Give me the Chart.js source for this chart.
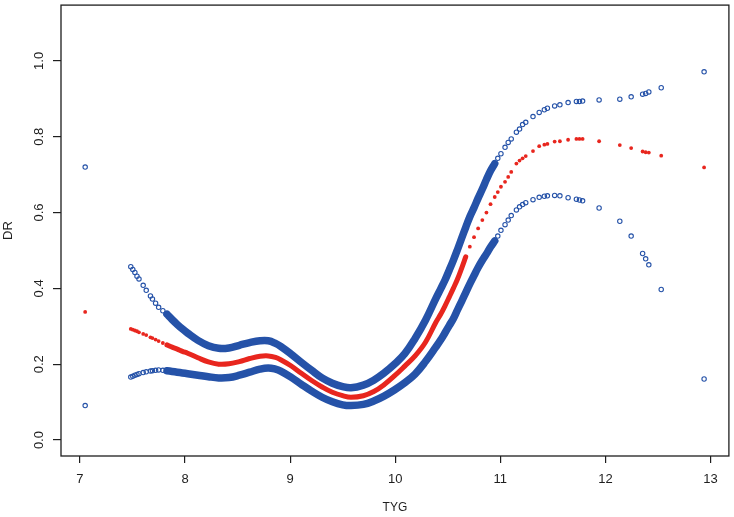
<!DOCTYPE html>
<html>
<head>
<meta charset="utf-8">
<title>DR vs TYG</title>
<script src="https://cdn.jsdelivr.net/npm/chart.js@4"></script>
<style>
  html, body { margin: 0; padding: 0; background: #fff; }
  #wrap { width: 734px; height: 517px; }
</style>
</head>
<body>
<div id="wrap"><canvas id="chart" width="734" height="517"></canvas></div>
<script>
// TYG values (x) and the fitted DR with its upper / lower bounds
const tyg = [7.05,
  7.484, 7.503, 7.523, 7.543, 7.562, 7.602, 7.631, 7.671, 7.690, 7.720, 7.749, 7.789, 7.828,
  7.877, 7.926, 7.975, 8.025, 8.123, 8.222, 8.320, 8.418, 8.517, 8.615, 8.713, 8.792, 8.861, 8.910, 9.008,
  9.107, 9.205, 9.304, 9.402, 9.500, 9.579, 9.697, 9.796, 9.894, 9.992, 10.091, 10.189, 10.288, 10.386, 10.435,
  10.474, 10.514, 10.553, 10.592, 10.632, 10.671, 10.710, 10.750, 10.789, 10.829, 10.868, 10.907, 10.947,
  10.976, 11.006, 11.045, 11.075, 11.104, 11.153, 11.183, 11.212, 11.242, 11.311, 11.370, 11.419, 11.448,
  11.517, 11.567, 11.645, 11.724, 11.753, 11.783, 11.940, 12.137, 12.245, 12.354, 12.383, 12.413, 12.531, 12.939];

const drFit = [0.338,
  0.293, 0.291, 0.289, 0.287, 0.284, 0.280, 0.277, 0.271, 0.269, 0.265, 0.261, 0.256, 0.251,
  0.245, 0.240, 0.234, 0.229, 0.217, 0.206, 0.200, 0.201, 0.207, 0.215, 0.221, 0.222, 0.218, 0.212, 0.196,
  0.176, 0.157, 0.140, 0.126, 0.117, 0.113, 0.117, 0.128, 0.146, 0.169, 0.195, 0.222, 0.258, 0.310, 0.333,
  0.354, 0.377, 0.400, 0.424, 0.453, 0.483, 0.510, 0.535, 0.558, 0.580, 0.600, 0.622, 0.641,
  0.654, 0.668, 0.681, 0.694, 0.707, 0.729, 0.737, 0.743, 0.749, 0.762, 0.775, 0.779, 0.781,
  0.787, 0.788, 0.792, 0.794, 0.794, 0.794, 0.788, 0.778, 0.770, 0.761, 0.759, 0.758, 0.750, 0.719];

const drUpper = [0.720,
  0.457, 0.450, 0.442, 0.432, 0.425, 0.408, 0.395, 0.380, 0.372, 0.361, 0.350, 0.341, 0.332,
  0.318, 0.305, 0.293, 0.282, 0.263, 0.249, 0.242, 0.243, 0.250, 0.257, 0.262, 0.262, 0.255, 0.247, 0.227,
  0.205, 0.184, 0.164, 0.150, 0.141, 0.138, 0.145, 0.158, 0.177, 0.200, 0.228, 0.268, 0.316, 0.373, 0.400,
  0.422, 0.448, 0.474, 0.502, 0.532, 0.561, 0.589, 0.613, 0.638, 0.662, 0.687, 0.710, 0.729,
  0.743, 0.755, 0.772, 0.785, 0.794, 0.812, 0.820, 0.832, 0.838, 0.853, 0.864, 0.871, 0.875,
  0.881, 0.884, 0.890, 0.893, 0.893, 0.894, 0.897, 0.899, 0.905, 0.912, 0.914, 0.918, 0.929, 0.971];

const drLower = [0.091,
  0.166, 0.168, 0.171, 0.173, 0.175, 0.178, 0.180, 0.182, 0.183, 0.184, 0.185, 0.184, 0.183,
  0.181, 0.179, 0.177, 0.175, 0.171, 0.167, 0.164, 0.165, 0.171, 0.179, 0.187, 0.190, 0.187, 0.182, 0.166,
  0.147, 0.129, 0.113, 0.101, 0.093, 0.091, 0.094, 0.103, 0.116, 0.132, 0.151, 0.174, 0.207, 0.245, 0.265,
  0.283, 0.302, 0.320, 0.343, 0.366, 0.389, 0.412, 0.434, 0.455, 0.474, 0.491, 0.509, 0.525,
  0.538, 0.553, 0.568, 0.580, 0.592, 0.607, 0.615, 0.621, 0.626, 0.634, 0.640, 0.643, 0.644,
  0.645, 0.644, 0.639, 0.635, 0.633, 0.631, 0.612, 0.577, 0.538, 0.492, 0.478, 0.462, 0.397, 0.161];

const xTicks = [7, 8, 9, 10, 11, 12, 13];
const yTicks = [0, 0.2, 0.4, 0.6, 0.8, 1.0];

// TYG range where the points are so dense they merge into a solid band
const denseFrom = 7.8;
const blueDenseTo = 10.95;
const redDenseTo = 10.7;

const BLUE = '#2552a8';
const RED = '#e8261e';
const INK = '#1e1e1e';
const FONT = '"Liberation Sans", Arial, sans-serif';

function toPoints(ys) {
    return tyg.map((x, i) => ({ x: x, y: ys[i] }));
}

function bandSet(ys, upTo, color, width) {
    return {
        data: toPoints(ys).filter(p => p.x >= denseFrom && p.x <= upTo),
        showLine: true,
        borderColor: color,
        borderWidth: width,
        borderCapStyle: 'round',
        tension: 0.4,
        pointRadius: 0
    };
}

// 外框 + 旋轉的 y 軸刻度文字
const boxPlugin = {
    id: 'box',
    afterDraw(chart) {
        const ctx = chart.ctx;
        const a = chart.chartArea;
        ctx.save();
        ctx.strokeStyle = INK;
        ctx.lineWidth = 1.3;
        ctx.strokeRect(a.left, a.top, a.right - a.left, a.bottom - a.top);

        const ys = chart.scales.y;
        ctx.fillStyle = INK;
        ctx.font = '13px ' + FONT;
        ctx.textAlign = 'center';
        ctx.textBaseline = 'middle';
        ys.ticks.forEach(t => {
            ctx.save();
            ctx.translate(39, ys.getPixelForValue(t.value));
            ctx.rotate(-Math.PI / 2);
            ctx.fillText(t.value.toFixed(1), 0, 0);
            ctx.restore();
        });
        ctx.restore();
    }
};

new Chart(document.getElementById('chart'), {
    type: 'scatter',
    data: {
        datasets: [
            bandSet(drUpper, blueDenseTo, BLUE, 7.5),
            bandSet(drLower, blueDenseTo, BLUE, 7.5),
            bandSet(drFit, redDenseTo, RED, 5),
            {
                data: toPoints(drUpper),
                pointRadius: 2.2,
                pointBorderWidth: 1.1,
                borderColor: BLUE,
                backgroundColor: 'rgba(0,0,0,0)'
            },
            {
                data: toPoints(drLower),
                pointRadius: 2.2,
                pointBorderWidth: 1.1,
                borderColor: BLUE,
                backgroundColor: 'rgba(0,0,0,0)'
            },
            {
                data: toPoints(drFit),
                pointRadius: 1.9,
                pointBorderWidth: 0,
                borderColor: RED,
                backgroundColor: RED
            }
        ]
    },
    options: {
        responsive: false,
        animation: false,
        devicePixelRatio: 1,
        layout: { padding: { top: 2, right: 2, bottom: 0, left: 0 } },
        plugins: {
            legend: { display: false },
            tooltip: { enabled: false }
        },
        scales: {
            x: {
                type: 'linear',
                min: 6.82,
                max: 13.175,
                afterBuildTicks: s => { s.ticks = xTicks.map(v => ({ value: v })); },
                afterFit: s => { s.height = 61; },
                ticks: {
                    color: INK,
                    font: { family: FONT, size: 13 },
                    padding: 9,
                    maxRotation: 0,
                    autoSkip: false
                },
                grid: {
                    drawOnChartArea: false,
                    tickLength: 7,
                    color: INK,
                    lineWidth: 1.2
                },
                border: { display: false },
                title: {
                    display: true,
                    text: 'TYG',
                    color: INK,
                    font: { family: FONT, size: 12 },
                    padding: { top: 0, bottom: 2 }
                }
            },
            y: {
                type: 'linear',
                min: -0.042,
                max: 1.147,
                afterBuildTicks: s => { s.ticks = yTicks.map(v => ({ value: v })); },
                afterFit: s => { s.width = 61; },
                ticks: { display: false },
                grid: {
                    drawOnChartArea: false,
                    tickLength: 8,
                    color: INK,
                    lineWidth: 1.2
                },
                border: { display: false },
                title: {
                    display: true,
                    text: 'DR',
                    color: INK,
                    font: { family: FONT, size: 13 },
                    padding: { top: 1, bottom: 0 }
                }
            }
        }
    },
    plugins: [boxPlugin]
});
</script>
</body>
</html>
